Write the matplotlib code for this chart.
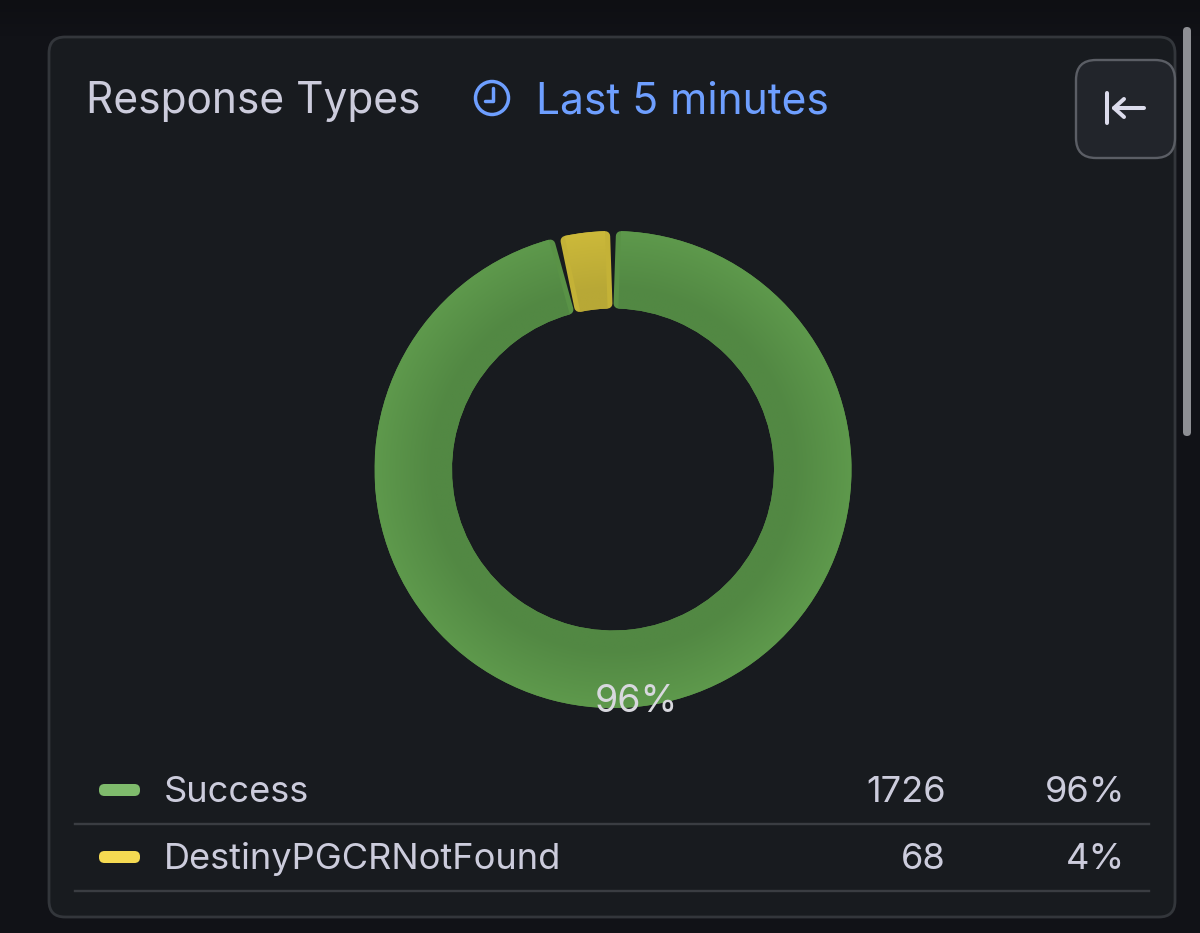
import matplotlib
matplotlib.use("Agg")
import matplotlib.pyplot as plt
from matplotlib.colors import LinearSegmentedColormap
from matplotlib.patches import FancyBboxPatch, Circle, Wedge
import numpy as np

categories = ["Success", "DestinyPGCRNotFound"]
counts = [1726, 68]
percent_labels = ["96%", "4%"]
slice_colors = ["#599246", "#c4b237"]
slice_inner = ["#528843", "#b8a836"]
slice_outer = ["#5e994c", "#ccb93a"]
swatch_colors = ["#7fbb6c", "#f5da52"]

title = "Response Types"
time_range = "Last 5 minutes"
slice_label = "96%"

plt.rcParams["font.family"] = ["Inter", "DejaVu Sans"]
W, H = 1200, 933
fig = plt.figure(figsize=(W / 100, H / 100), dpi=100, facecolor="#111217")
bg = fig.add_axes([0, 0, 1, 1])
bg.axis("off")

PANEL = "#181b1f"
TXT = "#ccccdc"
BLUE = "#6e9fff"
LINE = "#3a3d42"

grad = np.linspace(0, 1, 40).reshape(-1, 1)
bg.imshow(grad, extent=(0, W, 36, 0),
          cmap=LinearSegmentedColormap.from_list("t", ["#0e0f13", "#111217"]),
          aspect="auto", zorder=0)
bg.set_xlim(0, W)
bg.set_ylim(H, 0)


def rbox(x0, y0, x1, y1, r, fc, ec, lw, z=1):
    p = FancyBboxPatch((x0 + r, y0 + r), x1 - x0 - 2 * r, y1 - y0 - 2 * r,
                       boxstyle=f"round,pad={r},rounding_size={r}",
                       fc=fc, ec=ec, lw=lw, zorder=z)
    bg.add_patch(p)


rbox(49, 37, 1175, 917, 16, PANEL, "#33363b", 2.0)
rbox(1183, 27, 1191, 436, 4, "#8e8f94", "none", 0, z=2)
rbox(1076, 60, 1175, 158, 20, "#22252b", "#5b5e65", 1.7, z=3)
arrow_kw = dict(color="#dcdcec", lw=2.9, solid_capstyle="round", solid_joinstyle="round", zorder=4)
bg.plot([1107, 1107], [93, 123], **arrow_kw)
bg.plot([1114, 1144], [108, 108], **arrow_kw)
bg.plot([1124, 1114, 1124], [99, 108, 117], **arrow_kw)

# header
bg.text(86.5, 97.5, title, color=TXT, fontsize=30.6, va="center_baseline", ha="left", zorder=5)
bg.add_patch(Circle((492, 98), 16.5, fc="none", ec=BLUE, lw=2.5, zorder=5))
bg.plot([493, 493, 485], [88, 101, 101], color=BLUE, lw=2.5,
        solid_capstyle="round", solid_joinstyle="round", zorder=5)
bg.text(535.5, 97.5, time_range, color=BLUE, fontsize=30.6, va="center_baseline", ha="left", zorder=5)

# legend rows
row_y = [789, 856]
sep_y = [823.5, 890.5]
swatch_y = [790, 857]
for name, cnt, pct, col, y, sw, sy in zip(categories, counts, percent_labels, swatch_colors, row_y, swatch_y, sep_y):
    rbox(99, sw - 6, 140, sw + 6, 5.5, col, "none", 0, z=5)
    bg.text(164, y, name, color=TXT, fontsize=26.1, va="center_baseline", ha="left", zorder=5)
    bg.text(946, y, str(cnt), color=TXT, fontsize=26.1, va="center_baseline", ha="right", zorder=5)
    bg.text(1125, y, pct, color=TXT, fontsize=26.1, va="center_baseline", ha="right", zorder=5)
    bg.plot([75, 1149], [sy, sy], color=LINE, lw=1.7, zorder=5)

# donut
cx, cy, R, r_in = 613, 469.5, 238.5, 161
ax = fig.add_axes([(cx - R) / W, 1 - (cy + R) / H, 2 * R / W, 2 * R / H])
ax.patch.set_alpha(0)
wedges, _ = ax.pie(counts, colors=slice_colors, startangle=90, counterclock=False, radius=1.0,
                   wedgeprops=dict(width=1 - r_in / R))
ax.set_xlim(-1, 1)
ax.set_ylim(-1, 1)
ax.set_aspect("equal")

corner = 5.0  # px
gap = 1.7 + corner  # px inset of each radial edge
dth = np.degrees(gap / ((R + r_in) / 2))

yy, xx = np.mgrid[-1:1:600j, -1:1:600j]
rr = np.hypot(xx, yy)
tt = np.clip(((rr - r_in / R) / (1 - r_in / R) - 0.25) / 0.75, 0, 1)

for w, c0, c1 in zip(wedges, slice_inner, slice_outer):
    w.set_theta1(w.theta1 + dth)
    w.set_theta2(w.theta2 - dth)
    w.set_radius(1 - corner / R)
    w.set_width((R - r_in - 2 * corner) / R)
    w.set_edgecolor(w.get_facecolor())
    w.set_linewidth(2 * corner * 0.72)
    w.set_joinstyle("round")
    # radial shading, clipped to the slice body
    im = ax.imshow(tt, extent=(-1, 1, -1, 1), origin="lower", aspect="equal",
                   cmap=LinearSegmentedColormap.from_list("s", [c0, c1]),
                   vmin=0, vmax=1, zorder=w.get_zorder() + 1, interpolation="bilinear")
    clip = Wedge((0, 0), 1, w.theta1, w.theta2, width=1 - r_in / R, transform=ax.transData)
    im.set_clip_path(clip)

ax.set_xlim(-1, 1)
ax.set_ylim(-1, 1)
ax.text((636 - cx) / R, -(698 - cy) / R, slice_label, color="#d8d8de", fontsize=27,
        ha="center", va="center_baseline", zorder=10, clip_on=False)

fig.savefig("out.png", dpi=100, facecolor=fig.get_facecolor())
